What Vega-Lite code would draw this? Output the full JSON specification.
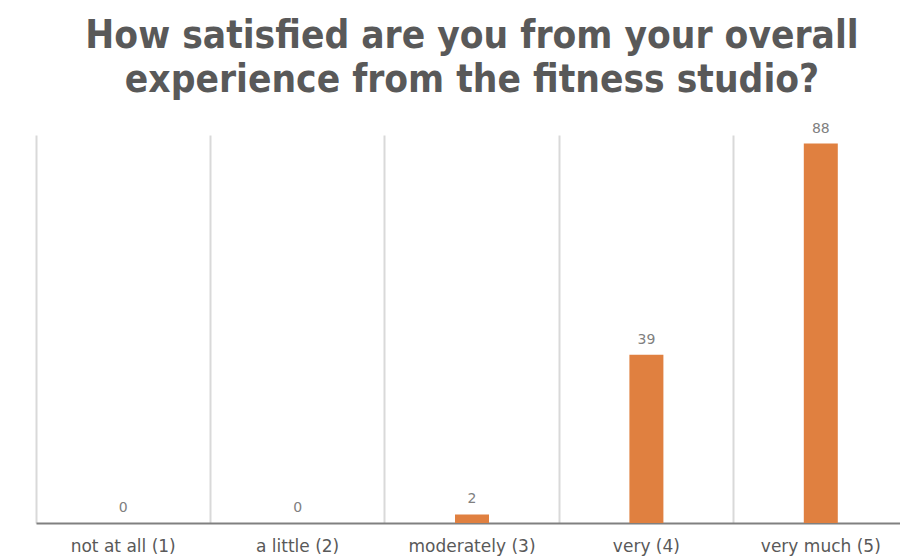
{
  "$schema": "https://vega.github.io/schema/vega-lite/v6.json",
  "width": 864,
  "height": 388,
  "autosize": {"type": "none"},
  "padding": {"left": 36, "top": 135, "right": 0, "bottom": 36},
  "background": "white",
  "title": {
    "text": ["How satisfied are you from your overall", "experience from the fitness studio?"],
    "anchor": "middle",
    "dx": 4,
    "font": "DejaVu Sans Condensed",
    "fontSize": 38.5,
    "fontWeight": "bold",
    "color": "#595959",
    "lineHeight": 44,
    "offset": 21
  },
  "data": {
    "values": [
      {"answer": "not at all (1)", "count": 0},
      {"answer": "a little (2)", "count": 0},
      {"answer": "moderately (3)", "count": 2},
      {"answer": "very (4)", "count": 39},
      {"answer": "very much (5)", "count": 88}
    ]
  },
  "encoding": {
    "x": {
      "field": "answer",
      "type": "nominal",
      "sort": null,
      "scale": {"range": [0, 872], "paddingInner": 0, "paddingOuter": 0},
      "axis": {
        "title": null,
        "labelAngle": 0,
        "labelFont": "DejaVu Sans",
        "labelFontSize": 17,
        "labelColor": "#595959",
        "labelPadding": 15,
        "ticks": false,
        "domainColor": "#808080",
        "domainWidth": 2,
        "grid": true,
        "bandPosition": 0,
        "gridColor": "#d9d9d9",
        "gridWidth": 2
      }
    },
    "y": {
      "field": "count",
      "type": "quantitative",
      "scale": {"domain": [0, 90]},
      "axis": null
    }
  },
  "layer": [
    {"mark": {"type": "bar", "width": 34, "color": "#E08040"}},
    {
      "mark": {"type": "text", "baseline": "bottom", "dy": -8, "font": "DejaVu Sans", "fontSize": 14, "color": "#808080"},
      "encoding": {"text": {"field": "count", "type": "quantitative"}}
    }
  ],
  "config": {"view": {"stroke": null}}
}
